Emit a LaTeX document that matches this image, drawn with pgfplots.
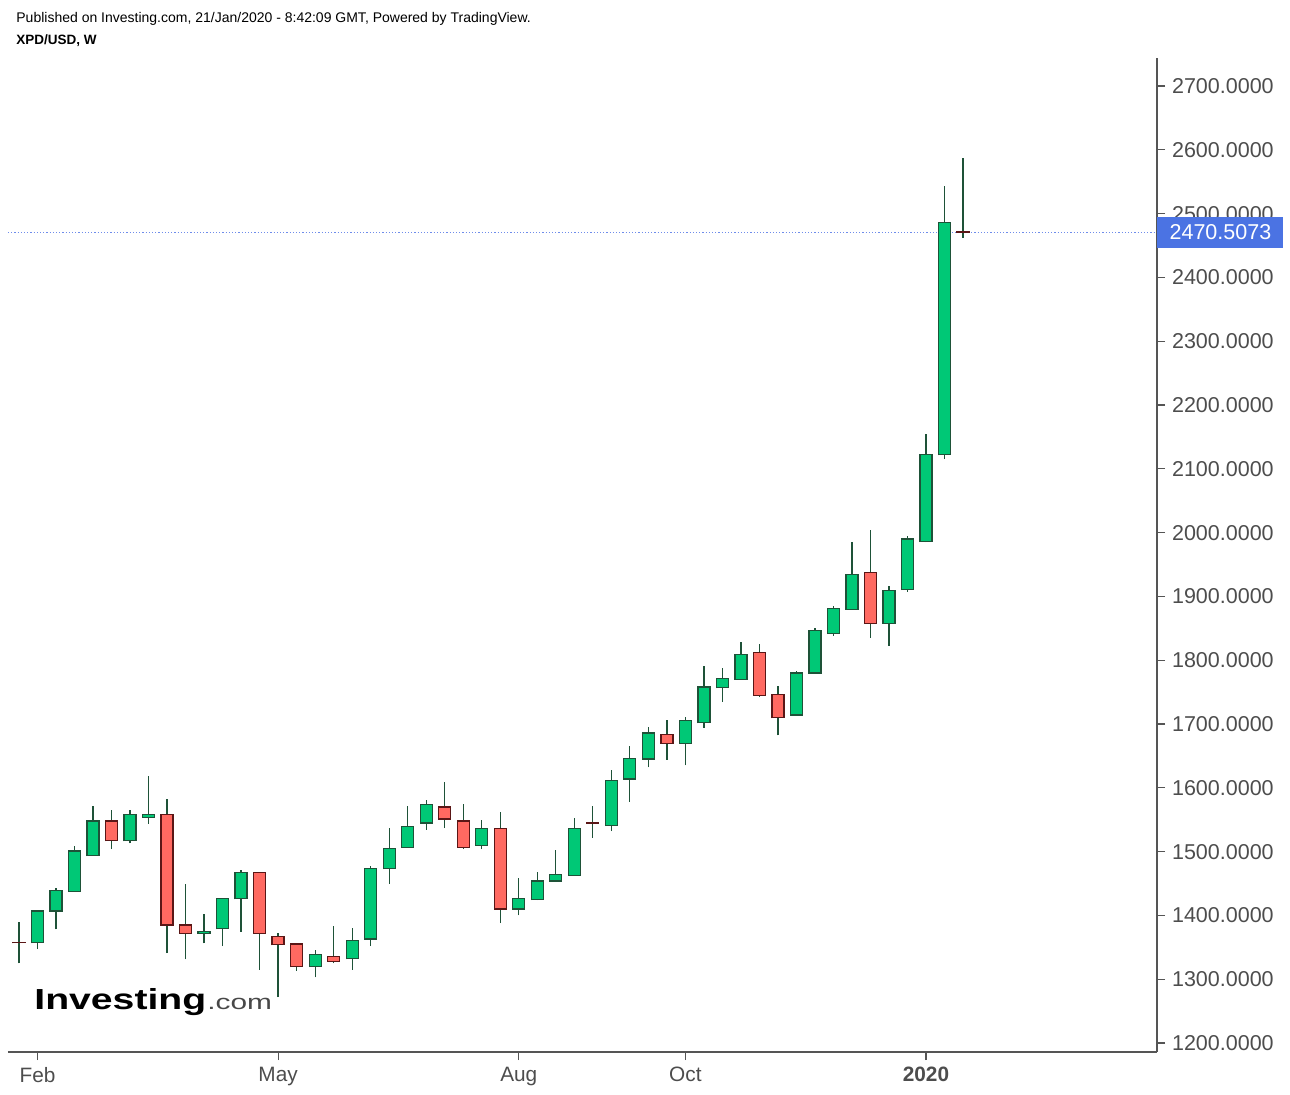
\documentclass[border=0pt]{standalone}
\usepackage{pgfplots}
\pgfplotsset{compat=1.18}
\usepackage{pgfplotstable}
\usepackage{fontspec}
\setmainfont{Liberation Sans}
\definecolor{upgreen}{RGB}{0,200,118}
\definecolor{downred}{RGB}{255,105,97}
\definecolor{wickgreen}{RGB}{30,82,56}
\definecolor{downborder}{RGB}{90,22,22}
\definecolor{axisgray}{RGB}{85,85,85}
\definecolor{labelgray}{RGB}{77,77,77}
\definecolor{labelblue}{RGB}{75,115,227}
\definecolor{lineblue}{RGB}{110,140,235}
% weekly candles, rising (close >= open)
\pgfplotstableread{
i o h l c
1 1357 1408 1347 1407
2 1407 1443 1378 1439
3 1438 1509 1438 1501
4 1494 1571 1494 1548
6 1517 1565 1513 1558
7 1554 1618 1544 1558
10 1372 1402 1356 1375
11 1379 1427 1352 1426
12 1426 1471 1374 1467
16 1320 1346 1303 1339
18 1332 1380 1315 1361
19 1363 1477 1352 1473
20 1473 1537 1450 1505
21 1507 1571 1506 1539
22 1545 1581 1534 1574
25 1510 1550 1504 1536
27 1410 1459 1400 1426
28 1425 1468 1424 1454
29 1454 1502 1453 1464
30 1463 1553 1462 1536
32 1541 1628 1532 1611
33 1614 1665 1578 1646
34 1645 1696 1632 1686
36 1670 1711 1635 1705
37 1702 1791 1694 1758
38 1757 1788 1735 1771
39 1770 1829 1770 1809
42 1714 1783 1713 1780
43 1780 1850 1779 1846
44 1842 1885 1838 1881
45 1880 1985 1879 1934
47 1858 1916 1823 1909
48 1911 1995 1907 1990
49 1986 2155 1985 2122
50 2122 2543 2115 2486
}\upohlc
% weekly candles, falling (close <= open)
\pgfplotstableread{
i o h l c
0 1357 1389 1325 1357
5 1548 1565 1504 1517
8 1558 1583 1341 1385
9 1385 1449 1331 1372
13 1467 1468 1315 1372
14 1367 1373 1272 1354
15 1355 1355 1313 1320
17 1336 1383 1325 1328
23 1570 1609 1537 1551
24 1548 1575 1504 1507
26 1536 1562 1388 1410
31 1545 1571 1522 1545
35 1683 1706 1644 1670
40 1812 1825 1742 1745
41 1746 1760 1682 1710
46 1937 2004 1835 1858
51 2472 2587 2462 2470.5073
}\downohlc
\pgfplotsset{
  bars/.style 2 args={draw=none, mark=none, forget plot,
    error bars/.cd, y dir=plus, y explicit, error mark=none,
    error bar style={solid, draw=#1, line width=#2}},
}
\begin{document}
\begin{tikzpicture}
\path[use as bounding box] (0,0) rectangle (645pt,547pt);
\begin{axis}[
  at={(4pt,21pt)}, anchor=south west,
  width=574.5pt, height=497pt, scale only axis,
  xmin=-0.594, xmax=61.48, ymin=1185.9, ymax=2743.9,
  axis x line*=bottom, axis y line*=right,
  axis line style={draw=axisgray, line width=0.9pt},
  tick align=outside, major tick length=4pt,
  major tick style={draw=axisgray, line width=0.6pt},
  xtick={1,14,27,36,49},
  xticklabels={Feb,May,Aug,Oct,\textbf{2020}},
  ytick={1200,1300,1400,1500,1600,1700,1800,1900,2000,2100,2200,2300,2400,2500,2600,2700},
  yticklabels={1200.0000,1300.0000,1400.0000,1500.0000,1600.0000,1700.0000,1800.0000,1900.0000,2000.0000,2100.0000,2200.0000,2300.0000,2400.0000,2500.0000,2600.0000,2700.0000},
  xticklabel style={font=\fontsize{10.4pt}{12pt}\selectfont, text=labelgray},
  yticklabel style={font=\fontsize{10.75pt}{12pt}\selectfont, text=labelgray, anchor=west},
]
\addplot[lineblue, line width=0.6pt, densely dotted] coordinates {(-0.594,2470.5073) (61.48,2470.5073)};
% wicks
\addplot[bars={wickgreen}{0.65pt}] table[x=i, y=l, y error plus expr={\thisrow{h}-\thisrow{l}}] {\upohlc};
\addplot[bars={wickgreen}{0.65pt}] table[x=i, y=l, y error plus expr={\thisrow{h}-\thisrow{l}}] {\downohlc};
% bodies: border then fill
\addplot[bars={wickgreen}{6.65pt}] table[x=i, y expr={\thisrow{o}-1}, y error plus expr={\thisrow{c}-\thisrow{o}+2}] {\upohlc};
\addplot[bars={upgreen}{5.35pt}] table[x=i, y expr={\thisrow{o}+1}, y error plus expr={max(\thisrow{c}-\thisrow{o}-2,0)}] {\upohlc};
\addplot[bars={downborder}{6.65pt}] table[x=i, y expr={\thisrow{c}-1}, y error plus expr={\thisrow{o}-\thisrow{c}+2}] {\downohlc};
\addplot[bars={downred}{5.35pt}] table[x=i, y expr={\thisrow{c}+1}, y error plus expr={max(\thisrow{o}-\thisrow{c}-2,0)}] {\downohlc};
\coordinate (lastp) at (axis cs:61.48,2470.5073);
\coordinate (br) at (rel axis cs:1,0);
\end{axis}
\fill[white] ([xshift=1.5pt,yshift=-0.45pt]br) rectangle ++(70pt,-14pt);
\node[anchor=west, fill=labelblue, text=white, inner sep=0pt, minimum height=15.5pt, minimum width=63pt,
  font=\fontsize{10.75pt}{12pt}\selectfont] at (lastp) {2470.5073};
\node[anchor=base west, inner sep=0pt, font=\fontsize{7pt}{8pt}\selectfont, text=black] at (8pt,535.7pt)
  {Published on Investing.com, 21/Jan/2020 - 8:42:09 GMT, Powered by TradingView.};
\node[anchor=base west, inner sep=0pt, font=\fontsize{6.75pt}{8pt}\selectfont\bfseries, text=black] at (8pt,524.5pt)
  {XPD/USD, W};
\node[anchor=base west, inner sep=0pt, font=\fontsize{14.5pt}{16pt}\selectfont\bfseries, text=black] at (17pt,42.35pt)
  {\scalebox{1.35}[1]{Investing}};
\node[anchor=base west, inner sep=0pt, font=\fontsize{10.5pt}{12pt}\selectfont, text=axisgray!85!black] at (103.5pt,42.35pt)
  {\scalebox{1.42}[1]{.com}};
\end{tikzpicture}
\end{document}
